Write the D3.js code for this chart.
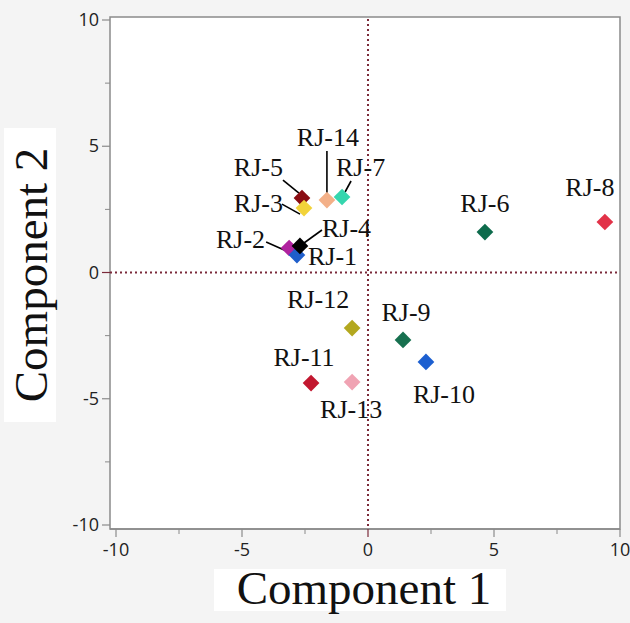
<!DOCTYPE html>
<html>
<head>
<meta charset="utf-8">
<script src="https://cdn.jsdelivr.net/npm/d3@7"></script>
<style>
  body { margin: 0; background: #f4f4f4; }
  svg { display: block; }
</style>
</head>
<body>
<script>
'use strict';

// samples, drawn in this order (later ones on top)
const names = ["RJ-2", "RJ-1", "RJ-4", "RJ-5", "RJ-3", "RJ-14", "RJ-7", "RJ-6", "RJ-8",
               "RJ-12", "RJ-9", "RJ-10", "RJ-11", "RJ-13"];
const comp1 = [-3.13, -2.82, -2.70, -2.62, -2.54, -1.63, -1.03, 4.64, 9.40,
               -0.63, 1.39, 2.30, -2.26, -0.63];
const comp2 = [0.97, 0.69, 1.05, 2.95, 2.55, 2.87, 2.99, 1.60, 2.00,
               -2.20, -2.67, -3.54, -4.38, -4.34];
const colors = ["#b0229f", "#1f5ecb", "#000000", "#8a0c12", "#f2d33a", "#f3b088", "#35d6ae",
                "#0d6b4c", "#e23248", "#b3a81f", "#17704f", "#1c5fd0", "#c2172f", "#f0a3b3"];

const majorTicks = [-10, -5, 0, 5, 10];
const minorTicks = [-7.5, -2.5, 2.5, 7.5];

// label placement relative to the marker: [dx, dy, anchor, leader line or null]
const labelPos = {
  "RJ-14": [1, -54, "middle", [0, -49, 0, -7]],
  "RJ-5":  [-19, -22, "end", [-19, -18, -3, -5]],
  "RJ-7":  [-6, -21, "start", [9, -16, 3, -5]],
  "RJ-3":  [-21, 4, "end", [-22, -4, -4, 6]],
  "RJ-2":  [-24, 0, "end", [-23, -6, -5, 2]],
  "RJ-4":  [22, -9, "start", [22, -16, 4, -3]],
  "RJ-1":  [11, 10, "start", null],
  "RJ-6":  [0, -20, "middle", null],
  "RJ-8":  [-15, -26, "middle", null],
  "RJ-12": [-34, -20, "middle", null],
  "RJ-9":  [3, -19, "middle", null],
  "RJ-10": [18, 41, "middle", null],
  "RJ-11": [-7, -17, "middle", null],
  "RJ-13": [-1, 36, "middle", null]
};

const width = 630, height = 623;
const frame = {left: 110, right: 620, top: 17, bottom: 529};

const svg = d3.select("body").append("svg")
    .attr("width", width)
    .attr("height", height);

const x = d3.scaleLinear().domain([-10, 10]).range([116, 620]);
const y = d3.scaleLinear().domain([-10, 10]).range([525, 20]);

// plot area
svg.append("rect")
    .attr("x", frame.left).attr("y", frame.top)
    .attr("width", frame.right - frame.left)
    .attr("height", frame.bottom - frame.top)
    .attr("fill", "#fff")
    .attr("stroke", "#8a8a8a")
    .attr("stroke-width", 1.5);

// reference lines at 0
const refColor = "#7b2a3a";
svg.append("line")
    .attr("x1", x(0)).attr("x2", x(0))
    .attr("y1", frame.top + 2).attr("y2", frame.bottom)
    .attr("stroke", refColor).attr("stroke-width", 2)
    .attr("stroke-dasharray", "2,3");
svg.append("line")
    .attr("x1", frame.left).attr("x2", frame.right - 2)
    .attr("y1", y(0)).attr("y2", y(0))
    .attr("stroke", refColor).attr("stroke-width", 2)
    .attr("stroke-dasharray", "2,3");

// axes
const tickFont = "'Open Sans', sans-serif";
const xAxis = svg.append("g")
    .attr("transform", "translate(0," + frame.bottom + ")");
xAxis.append("line")
    .attr("x1", frame.left).attr("x2", frame.right)
    .attr("stroke", "#8a8a8a").attr("stroke-width", 1.5);
xAxis.selectAll(".minor").data(minorTicks).enter().append("line")
    .attr("x1", d => x(d)).attr("x2", d => x(d))
    .attr("y1", 0).attr("y2", 5)
    .attr("stroke", "#8a8a8a");
xAxis.selectAll(".major").data(majorTicks).enter().append("line")
    .attr("x1", d => x(d)).attr("x2", d => x(d))
    .attr("y1", 0).attr("y2", 8)
    .attr("stroke", d => d === 0 ? refColor : "#8a8a8a")
    .attr("stroke-width", 1.2);
xAxis.selectAll("text").data(majorTicks).enter().append("text")
    .attr("x", d => x(d)).attr("y", 27)
    .attr("text-anchor", "middle")
    .style("font-family", tickFont)
    .style("font-size", "18px")
    .attr("fill", "#222")
    .text(d => d);

const yAxis = svg.append("g")
    .attr("transform", "translate(" + frame.left + ",0)");
yAxis.selectAll(".minor").data(minorTicks).enter().append("line")
    .attr("y1", d => y(d)).attr("y2", d => y(d))
    .attr("x1", 0).attr("x2", -5)
    .attr("stroke", "#8a8a8a");
yAxis.selectAll(".major").data(majorTicks).enter().append("line")
    .attr("y1", d => y(d)).attr("y2", d => y(d))
    .attr("x1", 0).attr("x2", -8)
    .attr("stroke", d => d === 0 ? refColor : "#8a8a8a")
    .attr("stroke-width", 1.2);
yAxis.selectAll("text").data(majorTicks).enter().append("text")
    .attr("x", -11).attr("y", d => y(d) + 6)
    .attr("text-anchor", "end")
    .style("font-family", tickFont)
    .style("font-size", "18px")
    .attr("fill", "#222")
    .text(d => d);

// axis titles
const titleFont = "'Liberation Serif', 'Times New Roman', serif";
svg.append("rect")
    .attr("x", 214).attr("y", 569).attr("width", 292).attr("height", 42)
    .attr("fill", "#fff");
svg.append("text")
    .attr("x", 364).attr("y", 604)
    .attr("text-anchor", "middle")
    .style("font-family", titleFont)
    .style("font-size", "47px")
    .attr("fill", "#111")
    .text("Component 1");
svg.append("rect")
    .attr("x", 4).attr("y", 128).attr("width", 52).attr("height", 294)
    .attr("fill", "#fff");
svg.append("text")
    .attr("transform", "translate(47,275) rotate(-90)")
    .attr("text-anchor", "middle")
    .style("font-family", titleFont)
    .style("font-size", "47px")
    .attr("fill", "#111")
    .text("Component 2");

const pts = names.map((n, i) => ({name: n, c1: comp1[i], c2: comp2[i], color: colors[i]}));

// leader lines
svg.append("g").selectAll("line")
    .data(pts.filter(d => labelPos[d.name][3]))
    .enter().append("line")
    .attr("x1", d => x(d.c1) + labelPos[d.name][3][0])
    .attr("y1", d => y(d.c2) + labelPos[d.name][3][1])
    .attr("x2", d => x(d.c1) + labelPos[d.name][3][2])
    .attr("y2", d => y(d.c2) + labelPos[d.name][3][3])
    .attr("stroke", "#000").attr("stroke-width", 1.6);

// markers
const diamond = d3.symbol().type(d3.symbolSquare).size(140);
svg.append("g").selectAll("path")
    .data(pts).enter().append("path")
    .attr("d", diamond)
    .attr("transform", d => "translate(" + x(d.c1) + "," + y(d.c2) + ") rotate(45)")
    .attr("fill", d => d.color);

// labels
svg.append("g").selectAll("text")
    .data(pts).enter().append("text")
    .attr("x", d => x(d.c1) + labelPos[d.name][0])
    .attr("y", d => y(d.c2) + labelPos[d.name][1])
    .attr("text-anchor", d => labelPos[d.name][2])
    .style("font-family", titleFont)
    .style("font-size", "26px")
    .attr("fill", "#111")
    .text(d => d.name);
</script>
</body>
</html>
